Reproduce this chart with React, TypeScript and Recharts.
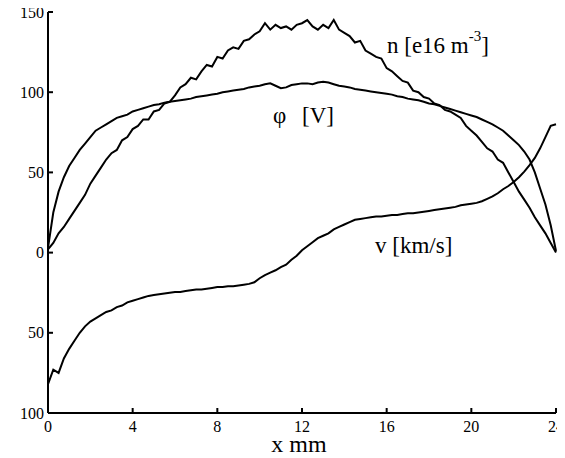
import React from "react";
import { LineChart, Line, XAxis, YAxis } from "recharts";

const xs = [
  0, 0.25, 0.5, 0.75, 1,
  1.25, 1.5, 1.75, 2, 2.25, 2.5, 2.75, 3, 3.25, 3.5, 3.75, 4,
  4.25, 4.5, 4.75, 5, 5.25, 5.5, 5.75, 6, 6.25, 6.5, 6.75, 7,
  7.25, 7.5, 7.75, 8, 8.25, 8.5, 8.75, 9, 9.25, 9.5, 9.75, 10,
  10.25, 10.5, 10.75, 11, 11.25, 11.5, 11.75, 12, 12.25, 12.5, 12.75, 13,
  13.25, 13.5, 13.75, 14, 14.25, 14.5, 14.75, 15, 15.25, 15.5, 15.75, 16,
  16.25, 16.5, 16.75, 17, 17.25, 17.5, 17.75, 18, 18.25, 18.5, 18.75, 19,
  19.25, 19.5, 19.75, 20, 20.25, 20.5, 20.75, 21, 21.25, 21.5, 21.75, 22,
  22.25, 22.5, 22.75, 23, 23.25, 23.5, 23.75, 24,
];

const nVals = [
  2, 6, 12, 16, 21,
  26, 31, 36, 43, 48, 53, 58, 62, 64, 70, 72, 77,
  79, 83, 83, 88, 89, 93, 94, 98, 103, 105, 109, 108,
  113, 117, 116, 122, 121, 126, 128, 127, 132, 133, 136, 138,
  143, 139, 142, 140, 141, 139, 142, 143, 145, 141, 139, 142,
  140, 145, 139, 137, 135, 131, 132, 126, 124, 122, 121, 115,
  113, 110, 107, 106, 101, 100, 97, 96, 93, 92, 89, 88,
  86, 84, 79, 76, 73, 69, 65, 63, 58, 56, 50, 44,
  38, 33, 28, 22, 17, 12, 6, 0,
];

const phiVals = [
  3, 25, 38, 47, 54,
  59, 64, 68, 72, 76, 78, 80, 82, 84, 85, 86, 88,
  89, 90, 91, 92, 92.5, 93.5, 94, 94.5, 95, 95.5, 96, 97,
  97.5, 98, 98.5, 99, 100, 100.5, 101, 101.5, 102, 103, 103.5, 104,
  105, 105.5, 104, 102.5, 103, 104.5, 105, 105.5, 105.5, 105, 106, 106.5,
  106, 105, 104, 103.5, 103, 102, 101.5, 101, 100.5, 100, 99.5, 99,
  98.5, 97.5, 97, 96, 95.5, 95, 94, 93, 92.5, 91.5, 90.5, 89.5,
  88.5, 87.5, 86.5, 85.5, 84.5, 83, 81.5, 80, 78, 76, 73, 70,
  67, 63, 58, 50, 40, 30, 17, 1,
];

const vVals = [
  -82, -73, -75, -66, -60,
  -55, -50, -46, -43, -41, -39, -37, -36, -34, -33, -31, -30,
  -29, -28, -27, -26.5, -26, -25.5, -25, -24.5, -24.5, -24, -23.5, -23,
  -23, -22.5, -22, -21.5, -21.5, -21, -21, -20.5, -20, -19.5, -18.5, -16,
  -14, -12.5, -11, -9, -7.5, -4.5, -2, 1.5, 4, 6.5, 9, 10.5,
  12, 14.5, 16, 17.5, 19, 20.5, 21, 21.5, 22, 22.5, 22.5, 23,
  23.5, 23.5, 24, 24.5, 24.5, 25, 25.5, 26, 26.5, 27, 27.5, 28,
  28.5, 29.5, 30, 30.5, 31, 32, 33.5, 35, 37, 39.5, 41.5, 44,
  47, 50.5, 54.5, 59, 65, 72, 79, 80,
];

const xTicks = [0, 4, 8, 12, 16, 20, 24];
const yTicks = [-100, -50, 0, 50, 100, 150];

const rows = xs.map((x, i) => ({ x, n: nVals[i], phi: phiVals[i], v: vVals[i] }));

const FONT = "'Liberation Serif', 'Times New Roman', Times, serif";
const W = 557;
const H = 458;
const TICK = 5;
const SW = 2;

const BottomTick = (props: any) => {
  const { x, y, payload } = props;
  return (
    <g>
      <path d={`M${x},${y}L${x},${y - TICK}`} stroke="#000" strokeWidth={SW} fill="none" />
      <text x={x} y={y + 19} textAnchor="middle" fontFamily={FONT} fontSize={16} fill="#000">
        {payload.value}
      </text>
    </g>
  );
};

const TopTick = (props: any) => {
  const { x, y } = props;
  return <path d={`M${x},${y}L${x},${y + TICK}`} stroke="#000" strokeWidth={SW} fill="none" />;
};

const LeftTick = (props: any) => {
  const { x, y, payload } = props;
  return (
    <g>
      <path d={`M${x},${y}L${x + TICK},${y}`} stroke="#000" strokeWidth={SW} fill="none" />
      <text x={x - 4} y={y + 5.5} textAnchor="end" fontFamily={FONT} fontSize={16} fill="#000">
        {Math.abs(payload.value)}
      </text>
    </g>
  );
};

const RightTick = (props: any) => {
  const { x, y } = props;
  return <path d={`M${x},${y}L${x - TICK},${y}`} stroke="#000" strokeWidth={SW} fill="none" />;
};

export default function App() {
  return (
    <div style={{ position: "relative", width: W, height: H, marginTop: -8 }}>
      <LineChart width={W} height={H} data={rows} margin={{ top: 12, right: 9, bottom: 0, left: 0 }}>
        <XAxis
          dataKey="x"
          type="number"
          domain={[0, 24]}
          ticks={xTicks}
          height={45}
          tickSize={0}
          tickMargin={0}
          tickLine={false}
          axisLine={{ stroke: "#000", strokeWidth: SW }}
          tick={<BottomTick />}
          interval={0}
        />
        <XAxis
          xAxisId="top"
          orientation="top"
          dataKey="x"
          type="number"
          domain={[0, 24]}
          ticks={xTicks}
          height={0}
          tickSize={0}
          tickMargin={0}
          tickLine={false}
          axisLine={{ stroke: "#000", strokeWidth: SW }}
          tick={<TopTick />}
          interval={0}
        />
        <YAxis
          type="number"
          domain={[-100, 150]}
          ticks={yTicks}
          width={40}
          tickSize={0}
          tickMargin={0}
          tickLine={false}
          axisLine={{ stroke: "#000", strokeWidth: SW }}
          tick={<LeftTick />}
          interval={0}
        />
        <YAxis
          yAxisId="right"
          orientation="right"
          type="number"
          domain={[-100, 150]}
          ticks={yTicks}
          width={0}
          tickSize={0}
          tickMargin={0}
          tickLine={false}
          axisLine={{ stroke: "#000", strokeWidth: SW }}
          tick={<RightTick />}
          interval={0}
        />
        <Line dataKey="n" type="linear" stroke="#000" strokeWidth={2} dot={false} isAnimationActive={false} />
        <Line dataKey="phi" type="linear" stroke="#000" strokeWidth={2} dot={false} isAnimationActive={false} />
        <Line dataKey="v" type="linear" stroke="#000" strokeWidth={2} dot={false} isAnimationActive={false} />
      </LineChart>
      <svg
        width={W}
        height={H}
        style={{ position: "absolute", left: 0, top: 0, pointerEvents: "none" }}
      >
        <text x={379} y={53} fontFamily={FONT} fontSize={23} fill="#000">
          n [e16 m
          <tspan dy={-12} fontSize={15}>-3</tspan>
          <tspan dy={12}>]</tspan>
        </text>
        <text x={265} y={123} fontFamily={FONT} fontSize={23} fill="#000">φ</text>
        <text x={294} y={123} fontFamily={FONT} fontSize={23} fill="#000">[V]</text>
        <text x={367} y={253} fontFamily={FONT} fontSize={23} fill="#000">v [km/s]</text>
        <text x={291} y={452} textAnchor="middle" fontFamily={FONT} fontSize={24} fill="#000">x mm</text>
      </svg>
    </div>
  );
}
